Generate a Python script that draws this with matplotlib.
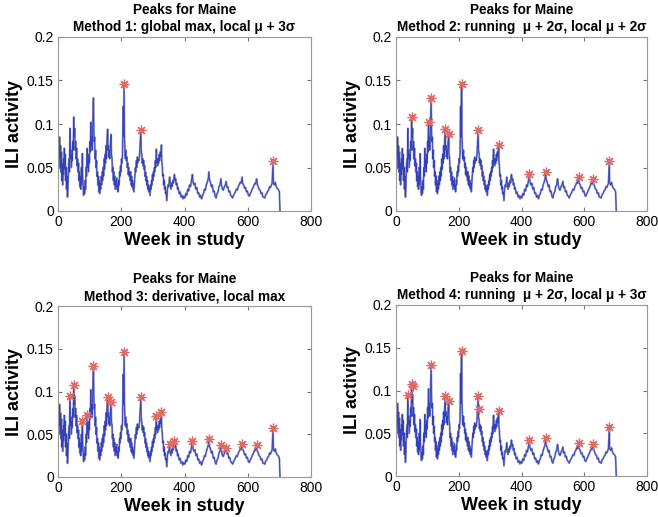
import matplotlib.pyplot as plt

plt.rcParams['font.family'] = ['Liberation Sans', 'DejaVu Sans']

# ILI activity for Maine (vertices of the weekly series)
weeks = [0, 2, 3, 5, 6, 8, 9, 11, 12, 14, 15, 17, 18, 20, 21, 23, 24, 26, 27, 29,
         30, 32, 33, 35, 36, 38, 39, 41, 42, 44, 45, 47, 48, 50, 51, 53, 54, 56, 57, 59,
         60, 62, 63, 65, 66, 68, 69, 71, 72, 74, 75, 77, 78, 80, 81, 83, 84, 86, 87, 89,
         90, 92, 93, 95, 96, 98, 99, 101, 102, 104, 105, 107, 108, 110, 112, 113, 114, 116, 117, 119,
         120, 122, 123, 125, 126, 128, 129, 131, 132, 134, 135, 137, 138, 140, 141, 143, 144, 146, 147, 149,
         150, 152, 153, 155, 157, 158, 160, 161, 163, 164, 166, 168, 169, 171, 172, 174, 175, 177, 178, 180,
         181, 183, 184, 186, 187, 189, 190, 192, 193, 195, 196, 198, 199, 201, 202, 204, 206, 207, 209, 210,
         212, 213, 215, 216, 218, 219, 221, 222, 224, 225, 227, 228, 230, 231, 233, 234, 236, 237, 239, 240,
         242, 243, 245, 246, 248, 249, 251, 252, 254, 256, 258, 260, 262, 263, 265, 266, 268, 269, 271, 272,
         274, 275, 277, 278, 280, 281, 283, 284, 286, 287, 289, 291, 293, 294, 296, 297, 299, 300, 302, 303,
         305, 306, 308, 309, 311, 312, 314, 315, 317, 318, 320, 321, 323, 325, 327, 328, 330, 331, 333, 334,
         336, 337, 339, 340, 342, 344, 346, 348, 350, 353, 355, 357, 359, 361, 363, 365, 368, 370, 372, 374,
         376, 378, 380, 383, 386, 389, 392, 395, 398, 401, 404, 407, 410, 413, 416, 419, 422, 425, 427, 430,
         433, 436, 439, 442, 445, 448, 451, 454, 457, 460, 463, 466, 469, 472, 475, 477, 479, 482, 485, 488,
         491, 494, 497, 500, 503, 506, 509, 512, 515, 517, 520, 523, 526, 529, 532, 534, 537, 540, 543, 546,
         549, 552, 555, 558, 561, 564, 567, 570, 573, 576, 579, 582, 584, 587, 590, 593, 596, 599, 602, 605,
         608, 611, 614, 617, 620, 623, 625, 628, 630, 633, 636, 639, 642, 645, 648, 651, 654, 657, 660, 663,
         666, 669, 672, 675, 677, 680, 681, 684, 687, 690, 693, 696, 699, 700, 702]
ili = [0.055, 0.082, 0.06, 0.085, 0.05, 0.075, 0.045, 0.068, 0.035, 0.055, 0.03, 0.06, 0.042, 0.072, 0.048, 0.065, 0.035, 0.05, 0.025, 0.04,
       0.016, 0.035, 0.05, 0.06, 0.045, 0.095, 0.06, 0.07, 0.05, 0.065, 0.058, 0.08, 0.07, 0.108, 0.085, 0.095, 0.07, 0.08, 0.06, 0.072,
       0.052, 0.06, 0.045, 0.055, 0.035, 0.045, 0.028, 0.04, 0.025, 0.05, 0.03, 0.066, 0.04, 0.025, 0.018, 0.028, 0.02, 0.035, 0.025, 0.05,
       0.04, 0.072, 0.05, 0.06, 0.045, 0.065, 0.055, 0.08, 0.068, 0.102, 0.075, 0.085, 0.07, 0.1, 0.13, 0.1, 0.08, 0.085, 0.06, 0.07,
       0.05, 0.058, 0.04, 0.045, 0.03, 0.04, 0.022, 0.035, 0.02, 0.032, 0.025, 0.04, 0.03, 0.045, 0.035, 0.05, 0.04, 0.06, 0.048, 0.065,
       0.055, 0.075, 0.06, 0.08, 0.094, 0.07, 0.075, 0.062, 0.07, 0.06, 0.078, 0.088, 0.065, 0.06, 0.045, 0.05, 0.035, 0.045, 0.03, 0.04,
       0.025, 0.035, 0.028, 0.038, 0.025, 0.03, 0.022, 0.035, 0.03, 0.045, 0.04, 0.052, 0.045, 0.06, 0.055, 0.065, 0.12, 0.085, 0.147, 0.09,
       0.065, 0.06, 0.07, 0.058, 0.062, 0.05, 0.055, 0.042, 0.05, 0.04, 0.045, 0.035, 0.045, 0.03, 0.04, 0.028, 0.035, 0.025, 0.032, 0.022,
       0.035, 0.04, 0.05, 0.045, 0.058, 0.05, 0.062, 0.055, 0.06, 0.058, 0.065, 0.078, 0.093, 0.07, 0.065, 0.055, 0.06, 0.052, 0.058, 0.048,
       0.052, 0.04, 0.045, 0.035, 0.04, 0.03, 0.035, 0.025, 0.03, 0.022, 0.028, 0.018, 0.03, 0.025, 0.035, 0.03, 0.042, 0.035, 0.045, 0.04,
       0.05, 0.045, 0.058, 0.05, 0.071, 0.055, 0.06, 0.052, 0.06, 0.055, 0.065, 0.058, 0.068, 0.062, 0.076, 0.058, 0.05, 0.04, 0.042, 0.03,
       0.035, 0.025, 0.028, 0.02, 0.022, 0.012, 0.025, 0.03, 0.028, 0.039, 0.03, 0.025, 0.032, 0.028, 0.035, 0.032, 0.042, 0.035, 0.037, 0.03,
       0.032, 0.025, 0.027, 0.02, 0.022, 0.016, 0.018, 0.014, 0.017, 0.015, 0.02, 0.018, 0.025, 0.023, 0.03, 0.028, 0.035, 0.042, 0.033, 0.03,
       0.032, 0.025, 0.027, 0.02, 0.021, 0.016, 0.018, 0.014, 0.018, 0.02, 0.025, 0.024, 0.03, 0.033, 0.037, 0.045, 0.036, 0.033, 0.028, 0.03,
       0.022, 0.023, 0.017, 0.015, 0.02, 0.022, 0.028, 0.03, 0.037, 0.03, 0.025, 0.024, 0.028, 0.03, 0.034, 0.027, 0.028, 0.022, 0.023, 0.018,
       0.017, 0.015, 0.018, 0.02, 0.022, 0.025, 0.024, 0.028, 0.03, 0.033, 0.032, 0.039, 0.032, 0.03, 0.026, 0.027, 0.022, 0.023, 0.018, 0.017,
       0.02, 0.022, 0.025, 0.027, 0.03, 0.032, 0.031, 0.037, 0.031, 0.028, 0.025, 0.024, 0.02, 0.021, 0.016, 0.016, 0.015, 0.019, 0.02, 0.023,
       0.024, 0.028, 0.027, 0.03, 0.032, 0.057, 0.032, 0.03, 0.033, 0.028, 0.026, 0.025, 0.023, 0.022, 0.0]

# detected peaks per method (week, ILI value)
m1_weeks = [209, 262, 680]
m1_vals = [0.146, 0.093, 0.057]
m2_weeks = [50, 104, 112, 157, 168, 209, 262, 327, 425, 477, 582, 628, 680]
m2_vals = [0.108, 0.102, 0.130, 0.094, 0.088, 0.146, 0.093, 0.076, 0.042, 0.045, 0.039, 0.037, 0.057]
m3_weeks = [38, 50, 77, 92, 112, 157, 168, 209, 262, 311, 327, 353, 368, 425, 477, 515, 532, 582, 628, 680]
m3_vals = [0.095, 0.108, 0.066, 0.072, 0.130, 0.094, 0.088, 0.146, 0.093, 0.071, 0.076, 0.039, 0.042,
           0.042, 0.045, 0.037, 0.034, 0.039, 0.037, 0.057]
m4_weeks = [38, 50, 53, 112, 157, 168, 209, 262, 263, 327, 425, 477, 582, 628, 680]
m4_vals = [0.095, 0.108, 0.105, 0.130, 0.094, 0.088, 0.146, 0.093, 0.078, 0.076, 0.042, 0.045, 0.039, 0.037, 0.057]

titles = ["Peaks for Maine\nMethod 1: global max, local \u03bc + 3\u03c3",
          "Peaks for Maine\nMethod 2: running  \u03bc + 2\u03c3, local \u03bc + 2\u03c3",
          "Peaks for Maine\nMethod 3: derivative, local max",
          "Peaks for Maine\nMethod 4: running  \u03bc + 2\u03c3, local \u03bc + 3\u03c3"]
peaks = [(m1_weeks, m1_vals), (m2_weeks, m2_vals), (m3_weeks, m3_vals), (m4_weeks, m4_vals)]

W, H = 658, 517
fig = plt.figure(figsize=(W / 100, H / 100), dpi=100)
# axes boxes in pixels: left, top, right, bottom
boxes = [(58, 37, 311, 211), (396, 37, 647, 211), (58, 306, 311, 477), (396, 305, 647, 476)]

for box, title, (pw, pv) in zip(boxes, titles, peaks):
    l, t, r, b = box
    ax = fig.add_axes([l / W, 1 - b / H, (r - l) / W, (b - t) / H])
    ax.plot(weeks, ili, color='#8d93b8', lw=1.4)
    ax.plot(weeks, ili, color='#2530c0', lw=0.6, alpha=0.85)
    ax.plot(pw, pv, linestyle='none', marker=(8, 2, 0), color='#e06a66',
            markersize=7, markeredgewidth=0.9)
    ax.set_xlim(0, 800)
    ax.set_ylim(0, 0.2)
    ax.set_xticks([0, 200, 400, 600, 800])
    ax.set_yticks([0, 0.05, 0.1, 0.15, 0.2])
    ax.set_yticklabels(['0', '0.05', '0.1', '0.15', '0.2'])
    ax.tick_params(direction='in', length=3, labelsize=10, color='#777777', pad=3,
                   top=True, right=True)
    for s in ax.spines.values():
        s.set_color('#9a9a9a')
    ax.set_title(title, fontsize=9.8, fontweight='bold', pad=4, linespacing=1.35)
    ax.set_xlabel('Week in study', fontsize=13, fontweight='bold', labelpad=2)
    ax.set_ylabel('ILI activity', fontsize=13, fontweight='bold', labelpad=3)

fig.savefig('out.png', dpi=100)
